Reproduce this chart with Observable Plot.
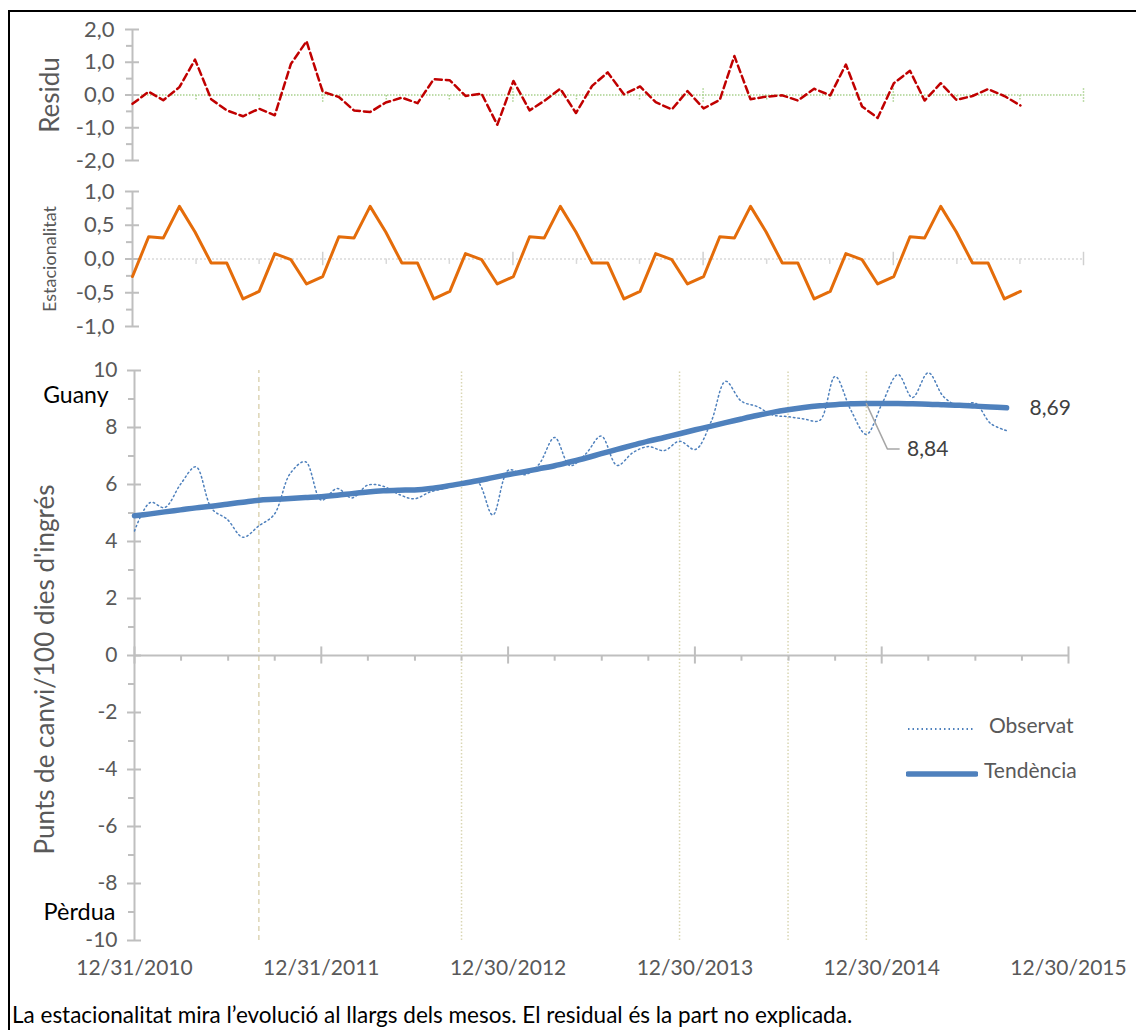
<!DOCTYPE html>
<html><head><meta charset="utf-8">
<script src="https://cdn.jsdelivr.net/npm/d3@7"></script>
<script src="https://cdn.jsdelivr.net/npm/@observablehq/plot@0.6"></script>
<style>
html,body{margin:0;padding:0;background:#fff;}
#wrap{position:relative;width:1136px;height:1030px;overflow:hidden;font-family:Lato,sans-serif;}
#wrap svg.plotsvg{position:absolute;left:0;overflow:visible;}
.frame{position:absolute;left:8px;top:10px;width:1140px;height:1030px;border-left:2px solid #000;border-top:2px solid #000;box-sizing:border-box;}
.leg{position:absolute;font-size:21px;color:#595959;line-height:1;}
.caption{position:absolute;left:12px;top:1001px;font-size:22.5px;color:#000;white-space:nowrap;}
</style></head><body><div id="wrap"><div class="frame"></div></div>
<script>
// ---------- DATA ----------
const xTickLabels = ["12/31/2010","12/31/2011","12/30/2012","12/30/2013","12/30/2014","12/30/2015"];
const firstMonth = "2010-12", lastMonth = "2015-08"; // monthly observations (month end)
const eventDates = ["2011-08-31","2012-09-30","2013-11-30","2014-06-30","2014-11-30"];

const observat = [4.37,5.37,5.19,6.01,6.62,5.15,4.78,4.15,4.55,4.95,6.38,6.80,
  5.45,5.86,5.53,5.98,5.94,5.65,5.50,5.74,5.88,6.05,6.10,4.93,
  6.51,6.34,6.70,7.65,6.66,7.08,7.70,6.67,7.12,7.33,7.19,7.52,
  7.23,8.22,9.62,8.92,8.74,8.44,8.38,8.30,8.25,9.79,8.60,7.76,
  8.85,9.86,9.05,9.92,9.08,8.75,8.86,8.14,7.89];
const tendencia = [4.90,4.97,5.04,5.11,5.18,5.24,5.31,5.38,5.45,5.48,5.51,5.54,
  5.57,5.62,5.68,5.74,5.78,5.80,5.81,5.86,5.94,6.03,6.13,6.24,
  6.35,6.45,6.55,6.66,6.79,6.93,7.08,7.23,7.38,7.52,7.65,7.78,
  7.92,8.05,8.17,8.30,8.42,8.53,8.62,8.70,8.76,8.80,8.83,8.84,
  8.84,8.84,8.83,8.82,8.80,8.78,8.75,8.72,8.69];
const estacionalitat = [-0.26,0.33,0.31,0.78,0.40,-0.06,-0.06,-0.59,-0.48,0.08,-0.01,-0.37,
  -0.26,0.33,0.31,0.78,0.40,-0.06,-0.06,-0.59,-0.48,0.08,-0.01,-0.37,
  -0.26,0.33,0.31,0.78,0.40,-0.06,-0.06,-0.59,-0.48,0.08,-0.01,-0.37,
  -0.26,0.33,0.31,0.78,0.40,-0.06,-0.06,-0.59,-0.48,0.08,-0.01,-0.37,
  -0.26,0.33,0.31,0.78,0.40,-0.06,-0.06,-0.59,-0.48];
const residu = [-0.27,0.10,-0.16,0.24,1.08,-0.13,-0.47,-0.65,-0.42,-0.62,0.95,1.64,
  0.10,-0.06,-0.47,-0.52,-0.23,-0.08,-0.25,0.48,0.45,-0.03,0.04,-0.91,
  0.43,-0.47,-0.18,0.19,-0.55,0.28,0.69,0.02,0.26,-0.22,-0.44,0.12,
  -0.41,-0.15,1.19,-0.13,-0.05,-0.01,-0.17,0.19,-0.01,0.93,-0.35,-0.70,
  0.36,0.74,-0.17,0.36,-0.15,-0.03,0.18,-0.03,-0.32];

const residuTicks = [-2,-1,0,1,2];
const estacTicks = [-1,-0.5,0,0.5,1];
const mainTicks = [-10,-8,-6,-4,-2,0,2,4,6,8,10];
const gainLabel = {text:"Guany", value:9.12};
const lossLabel = {text:"Pèrdua", value:-9};
const legendNames = ["Observat","Tendència"];
const caption = "La estacionalitat mira l’evolució al llargs dels mesos. El residual és la part no explicada.";

// ---------- BUILD ----------
const parseX = d3.utcParse("%m/%d/%Y");
const yearDates = xTickLabels.map(parseX);
const start = yearDates[0], end = yearDates[yearDates.length-1];
const m0 = d3.utcParse("%Y-%m")(firstMonth), m1 = d3.utcParse("%Y-%m")(lastMonth);
const dates = d3.utcMonth.range(m0, d3.utcMonth.offset(m1,1)).map(m => d3.utcDay.offset(d3.utcMonth.offset(m,1),-1));
const events = eventDates.map(d3.utcParse("%Y-%m-%d"));
const rows = dates.map((date,i)=>({date, obs:observat[i], trend:tendencia[i], seas:estacionalitat[i], res:residu[i]}));

function subTicks(n){
  const out=[];
  for(let i=0;i<yearDates.length-1;i++){
    const days=(yearDates[i+1]-yearDates[i])/864e5;
    for(let k=1;k<n;k++) out.push(d3.utcDay.offset(yearDates[i], Math.round(k*days/n)));
  }
  return out;
}
const comma1 = d => d.toFixed(1).replace(".", ",");
const comma2 = d => d.toFixed(2).replace(".", ",");
const AX = "#bfbfbf", LBL = "#595959";

function yAxis(majors, minors, fmt, pad, fs){
  const lo=d3.min(majors), hi=d3.max(majors);
  return [
    Plot.ruleX([start], {y1:()=>lo, y2:()=>hi, stroke:AX, strokeWidth:2}),
    Plot.ruleY(majors, {y:d=>d, x1:()=>start, x2:()=>start, insetLeft:-7, insetRight:-7, stroke:AX, strokeWidth:2}),
    Plot.ruleY(minors, {y:d=>d, x1:()=>start, x2:()=>start, insetLeft:-6, insetRight:0, stroke:AX, strokeWidth:2}),
    Plot.axisY({ticks:majors, tickSize:0, tickPadding:pad, tickFormat:fmt, fill:LBL, fontSize:fs, label:null})
  ];
}
const common = {width:1136, style:{fontFamily:"Lato, sans-serif", background:"transparent", overflow:"visible"}};
const wrap = document.getElementById("wrap");
function place(svg, top){ svg.classList.add("plotsvg"); svg.style.top = top+"px"; wrap.appendChild(svg); }

// Residu
const p1 = Plot.plot({...common, height:175, marginTop:29, marginBottom:15, marginLeft:132, marginRight:53,
  x:{type:"utc", domain:[start,end], axis:null}, y:{domain:[-2,2], axis:null},
  marks:[
    Plot.ruleY([0], {stroke:"#a9d18e", strokeWidth:1.5, strokeDasharray:"1.5,1.5"}),
    Plot.ruleX(yearDates.slice(1), {y1:()=>-0.22, y2:()=>0.22, stroke:"#a9d18e", strokeWidth:1.5, strokeDasharray:"1.5,1.5"}),
    Plot.ruleX(subTicks(3), {y1:()=>-0.15, y2:()=>0, stroke:"#a9d18e", strokeWidth:1.5, strokeDasharray:"1.5,1.5"}),
    ...yAxis(residuTicks, [-1.5,-0.5,0.5,1.5], comma1, 18, 22),
    Plot.line(rows, {x:"date", y:"res", stroke:"#c00000", strokeWidth:2.5, strokeDasharray:"7,4"}),
    Plot.text(["Residu"], {frameAnchor:"left", textAnchor:"middle", rotate:-90, dx:-82, fontSize:26, fill:LBL})
  ]});
place(p1, 0);

// Estacionalitat
const p2 = Plot.plot({...common, height:170, marginTop:21, marginBottom:14, marginLeft:132, marginRight:53,
  x:{type:"utc", domain:[start,end], axis:null}, y:{domain:[-1,1], axis:null},
  marks:[
    Plot.ruleY([0], {stroke:"#d9d9d9", strokeWidth:1.5, strokeDasharray:"2,2"}),
    Plot.ruleX(yearDates.slice(1), {y1:()=>-0.1, y2:()=>0.1, stroke:"#d0d0d0", strokeWidth:1.5}),
    Plot.ruleX(subTicks(3), {y1:()=>-0.08, y2:()=>0, stroke:"#d9d9d9", strokeWidth:1.5}),
    ...yAxis(estacTicks, [-0.75,-0.25,0.25,0.75], comma1, 18, 22),
    Plot.line(rows, {x:"date", y:"seas", stroke:"#e46c0a", strokeWidth:3}),
    Plot.text(["Estacionalitat"], {frameAnchor:"left", textAnchor:"middle", rotate:-90, dx:-82, fontSize:18, fill:LBL})
  ]});
place(p2, 170);

// Main
const iMax = d3.maxIndex(tendencia);
const pMax = rows[iMax], pEnd = rows[rows.length-1];
const leader = [
  {date:pMax.date, v:pMax.trend},
  {date:d3.utcDay.offset(pMax.date, 41), v:pMax.trend-1.59},
  {date:d3.utcDay.offset(pMax.date, 64), v:pMax.trend-1.59}
];
const p3 = Plot.plot({...common, height:660, marginTop:30, marginBottom:60, marginLeft:134, marginRight:68,
  x:{type:"utc", domain:[start,end], axis:null}, y:{domain:[-10,10], axis:null},
  marks:[
    Plot.ruleX([events[0]], {y1:()=>-10, y2:()=>10, stroke:"#ddd5b5", strokeWidth:1.5, strokeDasharray:"5,4"}),
    Plot.ruleX(events.slice(1), {y1:()=>-10, y2:()=>10, stroke:"#d9d6b4", strokeWidth:1.5, strokeDasharray:"1.5,2"}),
    Plot.ruleY([0], {stroke:AX, strokeWidth:2}),
    Plot.ruleX(yearDates, {y1:()=>-0.3, y2:()=>0.3, stroke:AX, strokeWidth:2}),
    Plot.ruleX(subTicks(4), {y1:()=>-0.2, y2:()=>0, stroke:AX, strokeWidth:2}),
    ...yAxis(mainTicks, [-9,-7,-5,-3,-1,1,3,5,7,9], d=>String(d), 17, 21),
    Plot.axisX({ticks:yearDates, tickSize:0, tickPadding:20, tickFormat:d3.utcFormat("%m/%d/%Y"), fill:LBL, fontSize:21, label:null}),
    Plot.text([gainLabel], {x:()=>start, y:"value", text:"text", textAnchor:"end", dx:-26, fontSize:23, fill:"#000"}),
    Plot.text([lossLabel], {x:()=>start, y:"value", text:"text", textAnchor:"end", dx:-19, fontSize:23.5, fill:"#000"}),
    Plot.line(rows, {x:"date", y:"obs", stroke:"#4f81bd", strokeWidth:1.5, strokeDasharray:"1.5,3", curve:"catmull-rom"}),
    Plot.line(rows, {x:"date", y:"trend", stroke:"#4f81bd", strokeWidth:5.5, strokeLinecap:"round", curve:"catmull-rom"}),
    Plot.line(leader, {x:"date", y:"v", stroke:"#a6a6a6", strokeWidth:1.5}),
    Plot.text([leader[2]], {x:"date", y:"v", text:()=>comma2(pMax.trend), textAnchor:"start", dx:8, fontSize:21, fill:"#404040"}),
    Plot.text([pEnd], {x:"date", y:"trend", text:d=>comma2(d.trend), textAnchor:"start", dx:23, fontSize:21, fill:"#404040"}),
    Plot.text(["Punts de canvi/100 dies d'ingrés"], {frameAnchor:"left", textAnchor:"middle", rotate:-90, dx:-89, dy:14, fontSize:26, fill:LBL})
  ]});
place(p3, 340);

// Legend (HTML overlay)
function legItem(top, name, dash, w, len){
  const d = document.createElement("div");
  d.className = "leg"; d.style.left = "906px"; d.style.top = (top-12)+"px";
  d.innerHTML = `<svg width="${len+4}" height="24" style="vertical-align:middle"><line x1="2" x2="${len+2}" y1="12" y2="12" stroke="#4f81bd" stroke-width="${w}" stroke-linecap="${dash?'butt':'round'}" ${dash?`stroke-dasharray="${dash}"`:''}/></svg><span style="position:relative;top:-1px;margin-left:${dash?12:6}px">${name}</span>`;
  wrap.appendChild(d);
}
legItem(727, legendNames[0], "1.5,3", 2, 67);
legItem(772, legendNames[1], null, 5.5, 68);

const cap = document.createElement("div");
cap.className = "caption"; cap.textContent = caption; wrap.appendChild(cap);
</script></body></html>
